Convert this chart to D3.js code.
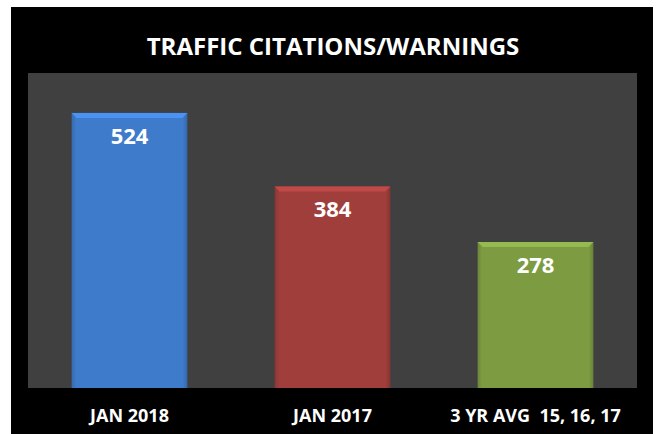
<!DOCTYPE html>
<html>
<head>
<meta charset="utf-8">
<script src="https://cdn.jsdelivr.net/npm/d3@7"></script>
<style>
  body { margin: 0; background: #ffffff; }
  text { font-family: "Liberation Sans Narrow", "Open Sans", sans-serif; font-weight: bold; fill: #ffffff; }
</style>
</head>
<body>
<svg width="658" height="434"></svg>
<script>
// chart data
const categories = ["JAN 2018", "JAN 2017", "3 YR AVG  15, 16, 17"];
const values = [524, 384, 278];
const barColors = ["#3e7bcb", "#a03e3c", "#7d9c42"];
const title = "TRAFFIC CITATIONS/WARNINGS";

const svg = d3.select("svg");

// black frame
svg.append("rect")
    .attr("x", 11).attr("y", 7)
    .attr("width", 642).attr("height", 427)
    .attr("fill", "#000000");

// plot area
const plot = {left: 28, top: 73, right: 637, bottom: 388};
svg.append("rect")
    .attr("x", plot.left).attr("y", plot.top)
    .attr("width", plot.right - plot.left).attr("height", plot.bottom - plot.top)
    .attr("fill", "#404040");

const x = d3.scaleBand()
    .domain(categories)
    .range([plot.left, plot.right])
    .paddingInner(0.43)
    .paddingOuter(0.215);

const y = d3.scaleLinear()
    .domain([0, 600])
    .range([plot.bottom, plot.top]);

// bevel gradients
const defs = svg.append("defs");
barColors.forEach(function(c, i) {
    const g = defs.append("linearGradient")
        .attr("id", "grad" + i)
        .attr("x1", 0).attr("y1", 0).attr("x2", 1).attr("y2", 0);
    g.append("stop").attr("offset", "0%").attr("stop-color", d3.color(c).darker(0.4));
    g.append("stop").attr("offset", "4%").attr("stop-color", c);
    g.append("stop").attr("offset", "96%").attr("stop-color", c);
    g.append("stop").attr("offset", "100%").attr("stop-color", d3.color(c).darker(0.5));
});

const bars = svg.selectAll(".bar")
    .data(values)
    .join("g")
    .attr("class", "bar");

bars.append("rect")
    .attr("x", (d, i) => x(categories[i]))
    .attr("y", d => y(d))
    .attr("width", x.bandwidth())
    .attr("height", d => y(0) - y(d))
    .attr("fill", (d, i) => "url(#grad" + i + ")");

// top bevel strip
bars.append("path")
    .attr("d", function(d, i) {
        const x0 = x(categories[i]), x1 = x0 + x.bandwidth(), t = y(d);
        return `M${x0},${t}L${x1},${t}L${x1 - 5},${t + 5}L${x0 + 5},${t + 5}Z`;
    })
    .attr("fill", (d, i) => d3.color(barColors[i]).brighter(0.5));

// value labels
bars.append("text")
    .attr("x", (d, i) => x(categories[i]) + x.bandwidth() / 2)
    .attr("y", d => y(d) + 31)
    .attr("text-anchor", "middle")
    .style("font-size", "22px")
    .style("font-family", "'Open Sans', sans-serif")
    .text(d => d);

// category labels
svg.selectAll(".cat")
    .data(categories)
    .join("text")
    .attr("class", "cat")
    .attr("x", d => x(d) + x.bandwidth() / 2)
    .attr("y", 422)
    .attr("text-anchor", "middle")
    .style("font-size", "18px")
    .style("white-space", "pre")
    .text(d => d);

// title
svg.append("text")
    .attr("x", 333)
    .attr("y", 55)
    .attr("text-anchor", "middle")
    .style("font-size", "24px")
    .text(title);
</script>
</body>
</html>
